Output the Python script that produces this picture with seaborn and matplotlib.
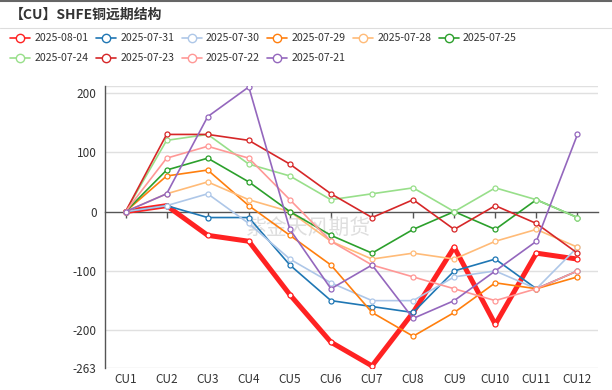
import matplotlib.pyplot as plt
import matplotlib.lines as mlines
import seaborn as sns

# Data
CONTRACTS = ["CU1", "CU2", "CU3", "CU4", "CU5", "CU6",
             "CU7", "CU8", "CU9", "CU10", "CU11", "CU12"]
DATES = ["2025-08-01", "2025-07-31", "2025-07-30", "2025-07-29", "2025-07-28",
         "2025-07-25", "2025-07-24", "2025-07-23", "2025-07-22", "2025-07-21"]

d0801 = [0, 10, -40, -50, -140, -220, -260, -170, -60, -190, -70, -80]
d0731 = [0, 10, -10, -10, -90, -150, -160, -170, -100, -80, -130, -100]
d0730 = [0, 10, 30, -20, -80, -120, -150, -150, -110, -100, -130, -60]
d0729 = [0, 60, 70, 10, -40, -90, -170, -210, -170, -120, -130, -110]
d0728 = [0, 30, 50, 20, 0, -50, -80, -70, -80, -50, -30, -60]
d0725 = [0, 70, 90, 50, 0, -40, -70, -30, 0, -30, 20, -10]
d0724 = [0, 120, 130, 80, 60, 20, 30, 40, 0, 40, 20, -10]
d0723 = [0, 130, 130, 120, 80, 30, -10, 20, -30, 10, -20, -70]
d0722 = [0, 90, 110, 90, 20, -50, -90, -110, -130, -150, -130, -100]
d0721 = [0, 30, 160, 210, -30, -130, -90, -180, -150, -100, -50, 130]

SERIES = [d0801, d0731, d0730, d0729, d0728, d0725, d0724, d0723, d0722, d0721]
COLORS = ["#ff2222", "#1f77b4", "#aec7e8", "#ff7f0e", "#ffbb78",
          "#2ca02c", "#98df8a", "#d62728", "#ff9896", "#9467bd"]
WIDTHS = [3.6, 1.2, 1.2, 1.2, 1.2, 1.2, 1.2, 1.2, 1.2, 1.2]

Y_MIN, Y_MAX = -263, 212.1
Y_TICKS = [200, 100, 0, -100, -200, -263]

sns.set_style("white")
plt.rcParams["font.family"] = ["Noto Sans CJK SC", "DejaVu Sans"]

fig = plt.figure(figsize=(6.12, 3.9), dpi=100)
ax = fig.add_axes([105 / 612, 1 - 367.7 / 390, 493 / 612, 282 / 390])

for vals, color, lw in zip(SERIES, COLORS, WIDTHS):
    sns.lineplot(x=CONTRACTS, y=vals, ax=ax, sort=False, color=color,
                 linewidth=lw, marker="o", markersize=3.6,
                 markerfacecolor="white", markeredgecolor=color,
                 markeredgewidth=0.9, legend=False)

ax.set_xlim(-0.5, len(CONTRACTS) - 0.5)
ax.set_ylim(Y_MIN, Y_MAX)
ax.set_yticks(Y_TICKS)
ax.set_yticklabels([str(t) for t in Y_TICKS])
ax.set_xlabel("")
ax.set_ylabel("")

# grid lines
for t in Y_TICKS + [Y_MAX]:
    if t != 0:
        ax.axhline(t, color="#e0e0e0", linewidth=1, zorder=0)

for side in ["top", "right", "bottom"]:
    ax.spines[side].set_visible(False)
ax.spines["left"].set_color("#555555")
ax.spines["left"].set_linewidth(1)

ax.tick_params(axis="y", length=4, width=1, color="#555555",
               labelsize=8.5, labelcolor="#333333", pad=2)
ax.tick_params(axis="x", length=0, labelsize=8.5, labelcolor="#333333", pad=4)

# x axis line through zero with category ticks
zero_axis = ax.secondary_xaxis(0, transform=ax.transData)
zero_axis.set_xticks(range(len(CONTRACTS)))
zero_axis.set_xticklabels([])
zero_axis.tick_params(length=4, width=1, color="#555555")
zero_axis.spines["bottom"].set_color("#555555")
zero_axis.spines["bottom"].set_linewidth(1)

# watermark
ax.text(0.284, 0.495, "紫金天风期货", transform=ax.transAxes,
        fontsize=15, color="#c8c8c8", alpha=0.6, va="center", ha="left",
        zorder=0.5)

# title and frame lines
fig.text(10 / 612, 1 - 15 / 390, "【CU】SHFE铜远期结构", fontsize=10,
         fontweight="bold", color="#333333", va="center", ha="left")
fig.add_artist(mlines.Line2D([0, 1], [1 - 0.5 / 390, 1 - 0.5 / 390],
                             color="#666666", linewidth=1.5))
fig.add_artist(mlines.Line2D([0, 1], [1 - 28 / 390, 1 - 28 / 390],
                             color="#dddddd", linewidth=0.8))

# legend, reordered so that it reads row by row
handles = [mlines.Line2D([], [], color=c, linewidth=1.2, marker="o",
                         markersize=6, markerfacecolor="white",
                         markeredgecolor=c, markeredgewidth=1)
           for c in COLORS]
order = [0, 6, 1, 7, 2, 8, 3, 9, 4, 5]
fig.legend([handles[i] for i in order], [DATES[i] for i in order],
           loc="upper left", ncol=6,
           bbox_to_anchor=(6 / 612, 1 - 29 / 390), frameon=False,
           fontsize=7.6, handlelength=1.9, handletextpad=0.4,
           columnspacing=0.7, labelspacing=0.95, borderaxespad=0,
           labelcolor="#333333")

fig.savefig("out.png", dpi=100)
